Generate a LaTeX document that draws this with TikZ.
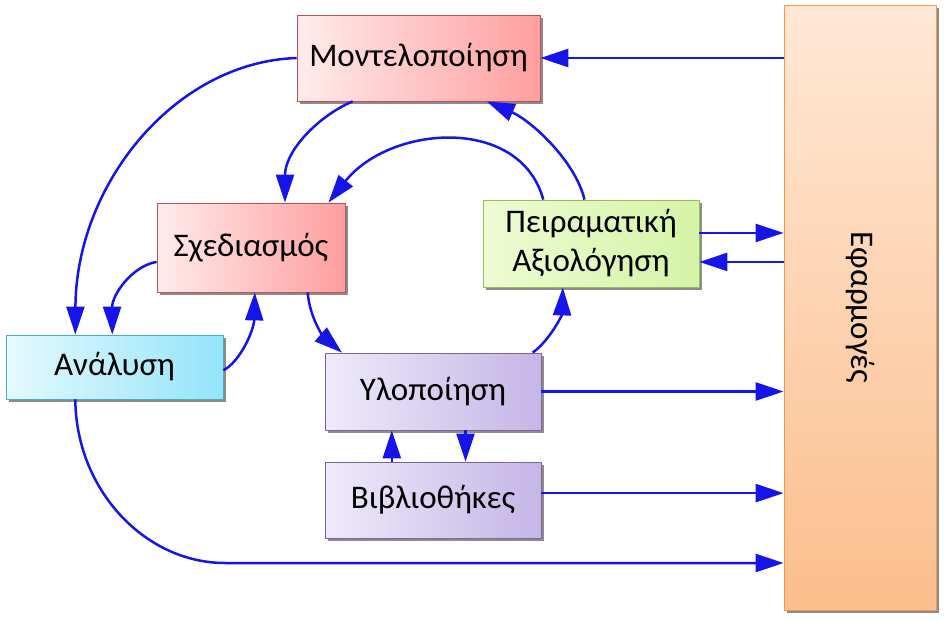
\documentclass[tikz,border=0pt]{standalone}
\usepackage{fontspec}
\setmainfont{Carlito}
\usetikzlibrary{arrows.meta,shadows,calc}
\definecolor{lineblue}{RGB}{20,20,235}
\definecolor{redL}{RGB}{255,236,236}
\definecolor{redR}{RGB}{255,158,158}
\definecolor{redB}{RGB}{192,80,77}
\definecolor{cyanL}{RGB}{228,249,253}
\definecolor{cyanR}{RGB}{148,228,250}
\definecolor{cyanB}{RGB}{75,172,198}
\definecolor{greenL}{RGB}{238,251,212}
\definecolor{greenR}{RGB}{212,244,166}
\definecolor{greenB}{RGB}{155,187,89}
\definecolor{purL}{RGB}{238,234,250}
\definecolor{purR}{RGB}{196,182,230}
\definecolor{purB}{RGB}{128,100,162}
\definecolor{orT}{RGB}{255,232,214}
\definecolor{orB}{RGB}{251,190,140}
\definecolor{orD}{RGB}{247,150,70}
\tikzset{
  box/.style={draw, line width=0.8pt, inner sep=2pt, align=center,
    font=\fontsize{33}{39}\selectfont,
    drop shadow={shadow xshift=2.5pt,shadow yshift=-2.5pt,opacity=0.45,fill=black}},
  redbox/.style={box, draw=redB, left color=redL, right color=redR,
    minimum width=243pt, minimum height=86pt},
  cyanbox/.style={box, draw=cyanB, left color=cyanL, right color=cyanR,
    minimum width=217pt, minimum height=64pt},
  greenbox/.style={box, draw=greenB, left color=greenL, right color=greenR,
    minimum width=216pt, minimum height=87pt},
  purbox/.style={box, draw=purB, left color=purL, right color=purR,
    minimum width=216pt, minimum height=77pt},
  appbox/.style={box, draw=orD, top color=orT, bottom color=orB,
    minimum width=152pt, minimum height=605pt},
  conn/.style={draw=lineblue, line width=2.5pt,
    -{Triangle[length=28pt,width=18pt]}}
}
\begin{document}
\begin{tikzpicture}[x=1pt,y=-1pt]
\useasboundingbox (0,0) rectangle (945,621);
\node[appbox] (app) at (860,307.5) {};
\node[font=\fontsize{33}{39}\selectfont, rotate=-90] (applbl) at (app.center) {Εφαρμογές};
\node[redbox] (mod) at (418.5,58) {Μοντελοποίηση};
\node[redbox, minimum width=188pt, minimum height=89pt] (sch) at (251,247.5) {Σχεδιασμός};
\node[cyanbox] (ana) at (114.5,367) {Ανάλυση};
\node[greenbox] (exp) at (591,243.5) {Πειραματική\\Αξιολόγηση};
\node[purbox] (imp) at (433,391.5) {Υλοποίηση};
\node[purbox, minimum height=76pt] (lib) at (433,500) {Βιβλιοθήκες};

% horizontal connectors with the applications box
\draw[conn] (mod.east -| app.west) -- (mod.east);
\coordinate (e1) at ($(exp.north east)!0.38!(exp.south east)$);
\coordinate (e2) at ($(exp.north east)!0.71!(exp.south east)$);
\draw[conn] (e1) -- (e1 -| app.west);
\draw[conn] (e2 -| app.west) -- (e2);
\draw[conn] (imp.east) -- (imp.east -| app.west);
\coordinate (l1) at ($(lib.north east)!0.41!(lib.south east)$);
\draw[conn] (l1) -- (l1 -| app.west);
\coordinate (anaturn) at (225,563);
\draw[conn] ($(ana.south west)!0.32!(ana.south east)$) .. controls (76,490) and (145,563) .. (anaturn) -- (anaturn -| app.west);

% Modelling -> Analysis
\draw[conn] (mod.west) .. controls (175,62) and (76,184) .. ($(ana.north west)!0.32!(ana.north east)$);
% Design -> Analysis
\draw[conn] ($(sch.north west)!0.66!(sch.south west)$) .. controls (132,266) and (112,295) .. ($(ana.north west)!0.49!(ana.north east)$);
% Analysis -> Design
\draw[conn] ($(ana.north east)!0.55!(ana.south east)$) .. controls (240,362) and (254,330) .. ($(sch.south west)!0.52!(sch.south east)$);
% Modelling -> Design
\draw[conn] ($(mod.south west)!0.23!(mod.south east)$) .. controls (320,115) and (285,150) .. ($(sch.north west)!0.68!(sch.north east)$);
% Evaluation -> Design
\draw[conn] ($(exp.north west)!0.28!(exp.north east)$) .. controls (520,115) and (390,125) .. ($(sch.north west)!0.91!(sch.north east)$);
% Evaluation -> Modelling
\draw[conn] ($(exp.north west)!0.47!(exp.north east)$) .. controls (575,160) and (530,120) .. ($(mod.south west)!0.78!(mod.south east)$);
% Design -> Implementation
\draw[conn] ($(sch.south west)!0.80!(sch.south east)$) .. controls (310,320) and (325,338) .. ($(imp.north west)!0.08!(imp.north east)$);
% Implementation -> Evaluation
\draw[conn] ($(imp.north west)!0.96!(imp.north east)$) .. controls (550,340) and (562,315) .. ($(exp.south west)!0.37!(exp.south east)$);
% Libraries <-> Implementation
\draw[conn] ($(lib.north west)!0.31!(lib.north east)$) -- ($(imp.south west)!0.31!(imp.south east)$);
\draw[conn] ($(imp.south west)!0.65!(imp.south east)$) -- ($(lib.north west)!0.65!(lib.north east)$);
\end{tikzpicture}
\end{document}
